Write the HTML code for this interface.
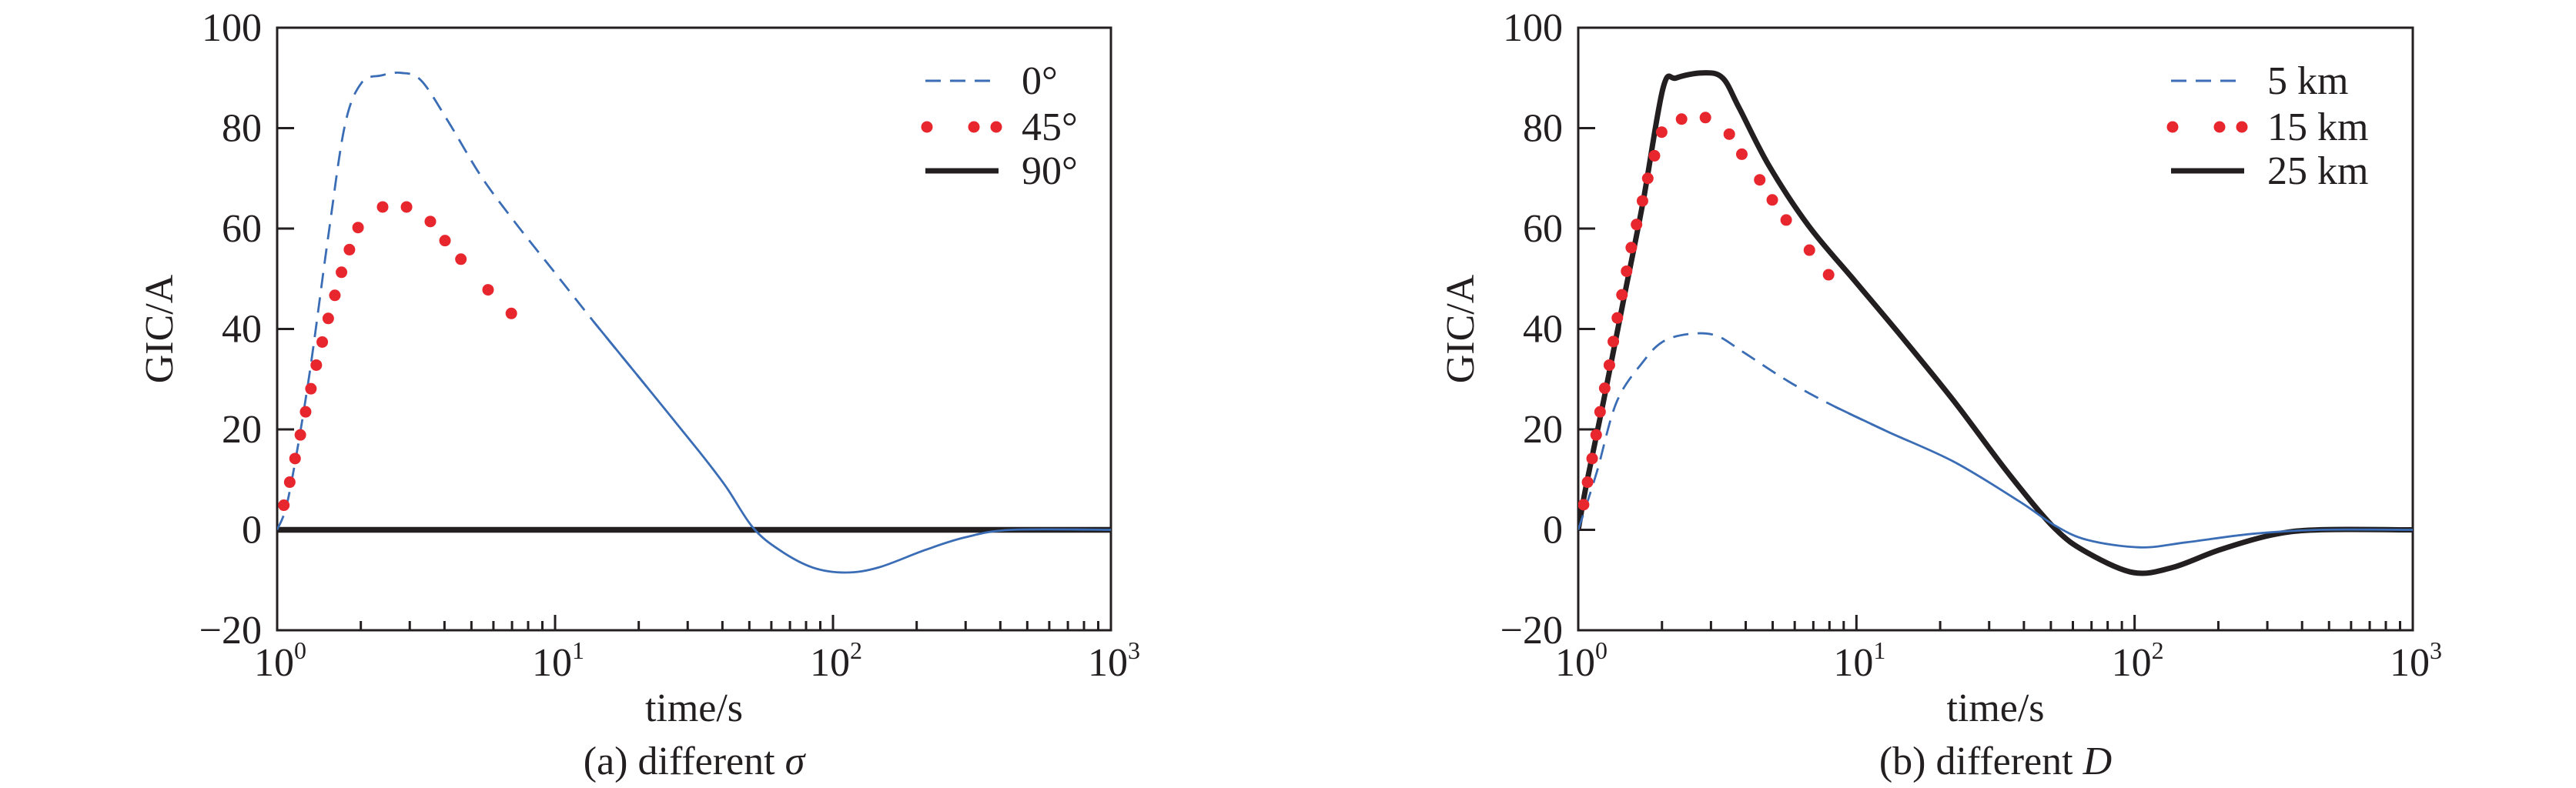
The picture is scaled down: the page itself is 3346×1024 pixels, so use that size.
<!DOCTYPE html>
<html><head><meta charset="utf-8"><style>
html,body{margin:0;padding:0;background:#fff;}
svg{display:block;}
text{font-family:"Liberation Serif","DejaVu Serif",serif;fill:#231f20;}
</style></head><body>
<svg id="fig" width="3346" height="1024" viewBox="0 0 3346 1024" xmlns="http://www.w3.org/2000/svg"></svg>
<script>
// ---- data (panel a) ----
const aBlueT = [1,1.098,1.295,1.527,1.752,2.010,2.370,2.795,3.295,4.107,5.404,7.112,9.89,13.75,21.36,33.1,41.3,51.4,64.1,84.4,111,146,215,299,439,1000];
const aBlueV = [0,6.5,29.5,58.5,80.5,89,90.5,91,89.5,81.5,70.5,61.5,51.5,41.5,28.5,15.5,8.5,0.5,-4,-7.5,-8.5,-7.5,-4,-1.5,0,0];
const aRedT = [1.057,1.110,1.160,1.212,1.266,1.323,1.383,1.453,1.527,1.613,1.704,1.820,1.955,2.396,2.921,3.558,4.017,4.583,5.74,6.96];
const aRedV = [4.9,9.5,14.2,18.9,23.5,28.1,32.8,37.4,42.1,46.7,51.3,55.8,60.2,64.3,64.3,61.4,57.6,53.9,47.8,43.1];
const aBlackT = [1,1000];
const aBlackV = [0,0];
// ---- data (panel b) ----
const bBlueT = [1,1.166,1.375,1.712,2.018,2.512,3.128,3.895,5.716,8.39,13.01,22.5,38.9,51.2,67.4,104.5,153,265,459,1000];
const bBlueV = [0,11.5,25.5,33.5,37.5,39,38.7,35.5,29.5,24.5,19.5,13.5,5.5,1,-2,-3.5,-2.5,-0.8,0,0];
const bRedT = [1.045,1.080,1.122,1.160,1.198,1.245,1.294,1.337,1.382,1.436,1.492,1.551,1.620,1.702,1.778,1.879,1.995,2.352,2.865,3.491,3.873,4.492,4.984,5.592,6.776,7.943];
const bRedV = [5,9.5,14.2,18.9,23.5,28.2,32.8,37.5,42.2,46.8,51.5,56.2,60.8,65.5,70,74.5,79.2,81.8,82.1,78.8,74.8,69.7,65.7,61.7,55.7,50.8];
const bBlackT = [1,1.074,1.232,1.452,1.712,2.018,2.251,2.803,3.304,3.790,4.851,6.740,9.89,14.52,22.51,34.9,51.2,67.4,98.9,137,202,313,459,989,1000];
const bBlackV = [0,9.5,25.5,45.5,65.5,88,90,91,90,84,72.5,60.5,49.5,38.5,25.5,11.5,0.5,-4.5,-8.5,-7.5,-4,-1,0,0,0];
const yTicks = [-20,0,20,40,60,80,100];
const xDecades = [0,1,2,3];
const legendA = ["0°","45°","90°"];
const legendB = ["5 km","15 km","25 km"];

const NS = "http://www.w3.org/2000/svg";
const svg = document.getElementById('fig');
function mk(tag, attrs, parent){
  const e = document.createElementNS(NS, tag);
  for (const k in attrs) e.setAttribute(k, attrs[k]);
  (parent||svg).appendChild(e); return e;
}
const Y0 = 36, Y1 = 819;

function smooth(pts){
  if (pts.length < 2) return '';
  let d = 'M' + pts[0][0].toFixed(1) + ' ' + pts[0][1].toFixed(1);
  for (let i = 0; i < pts.length - 1; i++) {
    const p0 = pts[Math.max(0,i-1)], p1 = pts[i], p2 = pts[i+1], p3 = pts[Math.min(pts.length-1,i+2)];
    const c1x = p1[0] + (p2[0]-p0[0])/6, c1y = p1[1] + (p2[1]-p0[1])/6;
    const c2x = p2[0] - (p3[0]-p1[0])/6, c2y = p2[1] - (p3[1]-p1[1])/6;
    d += ' C' + c1x.toFixed(1) + ' ' + c1y.toFixed(1) + ' ' + c2x.toFixed(1) + ' ' + c2y.toFixed(1) + ' ' + p2[0].toFixed(1) + ' ' + p2[1].toFixed(1);
  }
  return d;
}

function panel(x0, x1, key, title, italic, blue, red, black, blueDashUntil, legend, legX, blackW){
  const g = mk('g', {});
  
  
  const xs = t => x0 + (x1 - x0) * Math.log10(t) / 3;
  const ys = v => Y0 + (100 - v) * (Y1 - Y0) / 120;
  const clip = mk('clipPath', {id:'clip'+key}, g);
  mk('rect', {x:x0, y:Y0, width:x1-x0, height:Y1-Y0}, clip);
  yTicks.forEach(v => {
    const y = ys(v);
    if (v > -20 && v < 100) {
      const t = mk('line', {x1:x0, x2:x0+22, y1:y, y2:y, stroke:'#231f20','stroke-width':3}, g);
      
      
    }
    const lb = mk('text', {x:x0-20, y:y+17, 'font-size':52, 'text-anchor':'end'}, g);
    lb.textContent = v < 0 ? '\u2212' + Math.abs(v) : String(v);
    
    
  });
  xDecades.forEach(d => {
    const x = xs(Math.pow(10, d));
    if (d > 0 && d < 3) {
      const t = mk('line', {x1:x, x2:x, y1:Y1, y2:Y1-20, stroke:'#231f20','stroke-width':3}, g);
      
      
    }
    if (d < 3) for (let m = 2; m <= 9; m++) {
      const xm = xs(m * Math.pow(10, d));
      const t = mk('line', {x1:xm, x2:xm, y1:Y1, y2:Y1-12, stroke:'#231f20','stroke-width':3}, g);
      
      
    }
    const lb = mk('text', {x:x+4, y:878, 'font-size':52, 'text-anchor':'middle'}, g);
    
    
    lb.textContent = '10';
    const sp = mk('tspan', {dy:-22, 'font-size':32}, lb);
    sp.textContent = String(d);
  });
  const box = mk('rect', {x:x0, y:Y0, width:x1-x0, height:Y1-Y0, fill:'none', stroke:'#231f20','stroke-width':3}, g);
  
  
  const cg = mk('g', {'clip-path':'url(#clip'+key+')'}, g);
  function pathOf(T, V, filt){
    const pts = [];
    T.forEach((t,i) => { if (filt(t)) pts.push([xs(t), ys(V[i])]); });
    return smooth(pts);
  }
  if (black) {
    const p = mk('path', {d:pathOf(black[0], black[1], ()=>true), fill:'none', stroke:'#231f20','stroke-width':blackW,'stroke-linejoin':'round'}, cg);
    
    
  }
  const bd = mk('path', {d:pathOf(blue[0], blue[1], t => t <= blueDashUntil*1.5), fill:'none', stroke:'#3a6db5','stroke-width':2.8,'stroke-dasharray':'20 12','stroke-linejoin':'round'}, cg);
  
  
  const bs = mk('path', {d:pathOf(blue[0], blue[1], t => t >= blueDashUntil/1.5), fill:'none', stroke:'#3a6db5','stroke-width':2.8,'stroke-linejoin':'round'}, cg);
  
  
  red[0].forEach((t,i) => {
    const c = mk('circle', {cx:xs(t), cy:ys(red[1][i]), r:7.5, fill:'#e8262d'}, cg);
    
    
  });
  const rows = [105,165,222];
  const l1 = mk('line', {x1:legX, x2:legX+95, y1:rows[0], y2:rows[0], stroke:'#3a6db5','stroke-width':3,'stroke-dasharray':'20 12'}, g);
  
  
  [2, 63, 92].forEach(dx => {
    const c = mk('circle', {cx:legX+dx, cy:rows[1], r:7.5, fill:'#e8262d'}, g);
    
    
  });
  const l3 = mk('line', {x1:legX, x2:legX+95, y1:rows[2], y2:rows[2], stroke:'#231f20','stroke-width':7}, g);
  
  
  legend.forEach((s,i) => {
    const t = mk('text', {x:legX+125, y:rows[i]+17, 'font-size':52}, g);
    t.textContent = s;
    
    
  });
  const cx = (x0 + x1) / 2;
  const xt = mk('text', {x:cx, y:937, 'font-size':52, 'text-anchor':'middle'}, g);
  xt.textContent = 'time/s';
  
  
  const yt = mk('text', {x:0, y:0, 'font-size':52, 'text-anchor':'middle', transform:'translate(' + (x0-136) + ',' + ((Y0+Y1)/2) + ') rotate(-90)'}, g);
  yt.textContent = 'GIC/A';
  
  
  const st = mk('text', {x:cx, y:1006, 'font-size':52, 'text-anchor':'middle'}, g);
  st.textContent = title + ' ';
  const it = mk('tspan', {'font-style':'italic'}, st);
  it.textContent = italic;
  
  
}
panel(360, 1443, 'a', '(a) different', 'σ', [aBlueT,aBlueV], [aRedT,aRedV], [aBlackT,aBlackV], 15, legendA, 1202, 7.5);
panel(2050, 3134, 'b', '(b) different', 'D', [bBlueT,bBlueV], [bRedT,bRedV], [bBlackT,bBlackV], 10, legendB, 2820, 7);
</script>
</body></html>
